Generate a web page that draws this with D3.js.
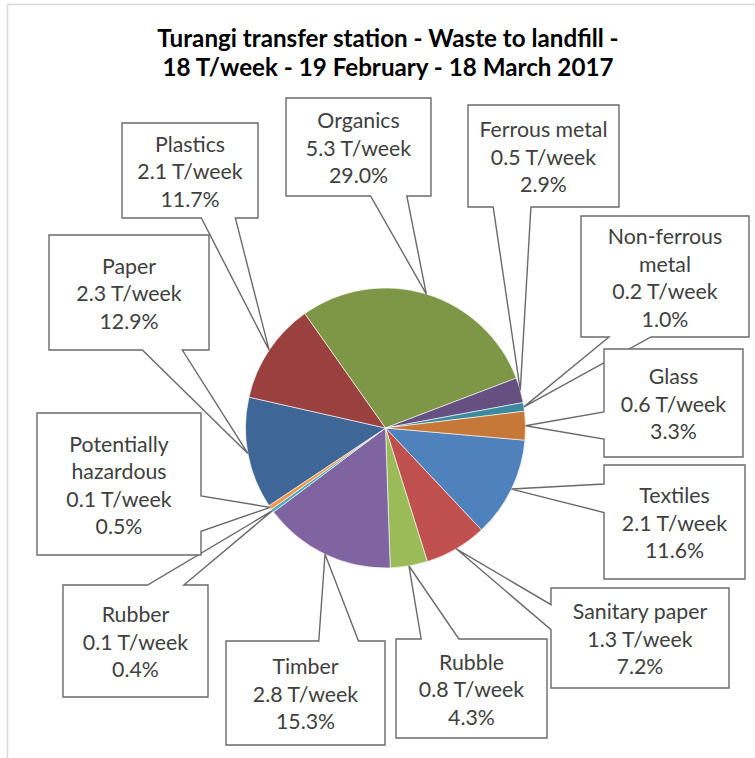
<!DOCTYPE html>
<html>
<head>
<meta charset="utf-8">
<script src="https://cdn.jsdelivr.net/npm/d3@7"></script>
<style>
  html, body { margin: 0; padding: 0; background: #fff; }
  svg { display: block; }
</style>
</head>
<body>
<svg id="chart" width="755" height="758"></svg>
<script>
// Waste composition, in the order the slices run clockwise from just past 3 o'clock
const categories = ["Textiles", "Sanitary paper", "Rubble", "Timber", "Rubber", "Potentially hazardous",
                    "Paper", "Plastics", "Organics", "Ferrous metal", "Non-ferrous metal", "Glass"];
const tonnesPerWeek = [2.1, 1.3, 0.8, 2.8, 0.1, 0.1, 2.3, 2.1, 5.3, 0.5, 0.2, 0.6];
const percentShares = [11.6, 7.2, 4.3, 15.3, 0.4, 0.5, 12.9, 11.7, 29.0, 2.9, 1.0, 3.3];
const nameLines = [["Textiles"], ["Sanitary paper"], ["Rubble"], ["Timber"], ["Rubber"],
                   ["Potentially", "hazardous"], ["Paper"], ["Plastics"], ["Organics"],
                   ["Ferrous metal"], ["Non-ferrous", "metal"], ["Glass"]];
const titleLines = ["Turangi transfer station - Waste to landfill -",
                    "18 T/week - 19 February - 18 March 2017"];

// Slice fills: six accent colours, then the same six at a darker shade
const sliceColors = ["#4f81bd", "#c0504d", "#9bbb59", "#8064a2", "#4bacc6", "#f79646",
                     "#3e6797", "#9a403e", "#7d9747", "#665082", "#3c8a9f", "#c67838"];

// Callout box placement (x, y, width, height) for each category
const calloutBoxes = {
  "Textiles":              [604, 465, 141, 114],
  "Sanitary paper":        [551, 588, 178, 100],
  "Rubble":                [396, 639, 151,  99],
  "Timber":                [226, 641, 159, 104],
  "Rubber":                [ 63, 585, 145, 112],
  "Potentially hazardous": [ 37, 413, 164, 142],
  "Paper":                 [ 49, 235, 160, 115],
  "Plastics":              [122, 123, 136,  95],
  "Organics":              [286,  98, 145,  98],
  "Ferrous metal":         [468, 105, 151, 102],
  "Non-ferrous metal":     [581, 216, 168, 121],
  "Glass":                 [604, 349, 139, 108]
};

const W = 755, H = 758;
const cx = 385.5, cy = 428, radius = 140;
const labelFont = "Lato, 'Open Sans', sans-serif";
const labelSize = 21.3, lineStep = 27.5;

const rows = categories.map((c, i) => ({
  name: c, lines: nameLines[i], tonnes: tonnesPerWeek[i], pct: percentShares[i], color: sliceColors[i]
}));

const svg = d3.select("#chart");
svg.append("rect").attr("width", W).attr("height", H).attr("fill", "#fff");

// Chart area frame
svg.append("rect")
  .attr("x", 7.5).attr("y", 4.5).attr("width", 800).attr("height", 800)
  .attr("fill", "none").attr("stroke", "#d9d9d9").attr("stroke-width", 1.5);

// Title
svg.append("g").selectAll("text").data(titleLines).join("text")
  .attr("x", 388).attr("y", (d, i) => 47 + i * 29)
  .attr("text-anchor", "middle")
  .attr("font-family", labelFont).attr("font-weight", 700).attr("font-size", 24.2)
  .attr("fill", "#000")
  .text(d => d);

const start = 95 * Math.PI / 180;
const pie = d3.pie().sort(null).value(d => d.pct).startAngle(start).endAngle(start + 2 * Math.PI);
const arcs = pie(rows);
const arc = d3.arc().innerRadius(0).outerRadius(radius);
const edge = d3.arc().innerRadius(radius).outerRadius(radius);

const g = svg.append("g").attr("transform", `translate(${cx},${cy})`);
g.selectAll("path").data(arcs).join("path")
  .attr("d", arc)
  .attr("fill", d => d.data.color)
  .attr("stroke", "#fff").attr("stroke-width", 0.6);

// Rectangular callout with a wedge pointing at (ax, ay)
function calloutPath(box, ax, ay) {
  const [l, t, w, h] = box;
  const r = l + w, b = t + h;
  const dxPos = ax - (l + w / 2), dyPos = ay - (t + h / 2);
  const sideways = Math.abs(dxPos * h) > Math.abs(dyPos * w);
  const side = sideways ? (dxPos < 0 ? "left" : "right") : (dyPos < 0 ? "top" : "bottom");
  const x1 = l + w * (dxPos >= 0 ? 7 : 2) / 12, x2 = l + w * (dxPos >= 0 ? 10 : 5) / 12;
  const y1 = t + h * (dyPos >= 0 ? 7 : 2) / 12, y2 = t + h * (dyPos >= 0 ? 10 : 5) / 12;
  const p = d3.path();
  p.moveTo(l, t);
  if (side === "top") { p.lineTo(x1, t); p.lineTo(ax, ay); p.lineTo(x2, t); }
  p.lineTo(r, t);
  if (side === "right") { p.lineTo(r, y1); p.lineTo(ax, ay); p.lineTo(r, y2); }
  p.lineTo(r, b);
  if (side === "bottom") { p.lineTo(x2, b); p.lineTo(ax, ay); p.lineTo(x1, b); }
  p.lineTo(l, b);
  if (side === "left") { p.lineTo(l, y2); p.lineTo(ax, ay); p.lineTo(l, y1); }
  p.closePath();
  return p.toString();
}

const callouts = svg.append("g").selectAll("g").data(arcs).join("g");
callouts.append("path")
  .attr("d", d => {
    const [ax, ay] = edge.centroid(d);
    return calloutPath(calloutBoxes[d.data.name], cx + ax, cy + ay);
  })
  .attr("fill", "#fff").attr("stroke", "#6a6a6a").attr("stroke-width", 1.4)
  .attr("stroke-linejoin", "miter");

callouts.each(function(d) {
  const [l, t, w, h] = calloutBoxes[d.data.name];
  const lines = d.data.lines.concat([`${d.data.tonnes} T/week`, `${d.data.pct.toFixed(1)}%`]);
  const midY = t + h / 2 + 1.5;
  d3.select(this).selectAll("text").data(lines).join("text")
    .attr("x", l + w / 2)
    .attr("y", (s, i) => midY + (i - (lines.length - 1) / 2) * lineStep)
    .attr("dy", "0.35em")
    .attr("text-anchor", "middle")
    .attr("font-family", labelFont).attr("font-size", labelSize)
    .attr("fill", "#404040")
    .text(s => s);
});
</script>
</body>
</html>
